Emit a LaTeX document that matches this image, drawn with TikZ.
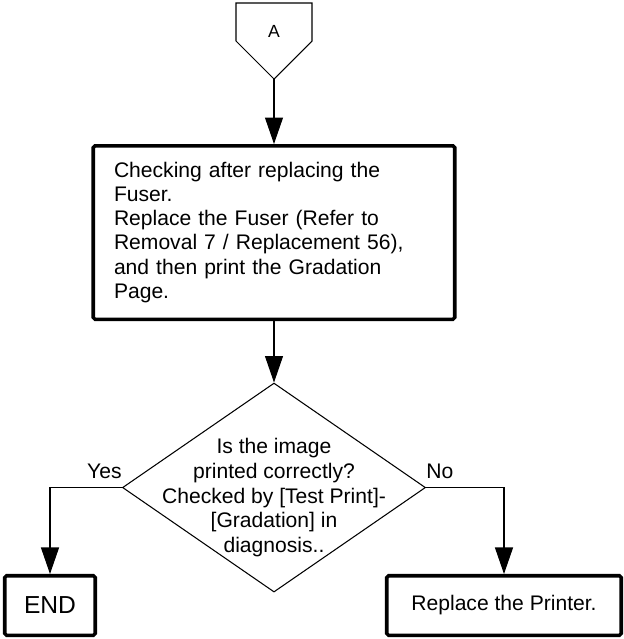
\documentclass[tikz,border=0pt]{standalone}
\usepackage{fontspec}
\setmainfont{Liberation Sans}
\usetikzlibrary{arrows.meta,positioning,shapes.geometric}

\begin{document}
\begin{tikzpicture}[
  stepbox/.style={draw, line width=2pt, rounded corners=1pt, inner sep=0pt,
    font=\fontsize{12}{13.7}\selectfont},
  decision/.style={diamond, draw, line width=0.6pt, inner sep=0pt,
    minimum width=6.06cm, minimum height=4.18cm},
  line/.style={-{Triangle[length=5.3mm, width=3.6mm]}, line width=0.6pt},
  answer/.style={inner sep=0pt, font=\fontsize{12}{13.7}\selectfont}
]
\useasboundingbox (0,0) rectangle (12.48,-12.78);

% off-page connector
\draw[line width=0.6pt] (4.72,-0.06) -- (6.24,-0.06) -- (6.24,-0.82)
  -- (5.48,-1.58) -- (4.72,-0.82) -- cycle;
\node[font=\fontsize{10}{12}\selectfont] (A) at (5.48,-0.62) {A};
\coordinate (A-tip) at (5.48,-1.58);

\node[stepbox, text width=6.4cm, minimum width=7.23cm, minimum height=3.47cm,
  align=left, below=1.3cm of A-tip] (check) {
  Checking after replacing the\\
  Fuser.\\
  Replace the Fuser (Refer to\\
  Removal 7 / Replacement 56),\\
  and then print the Gradation\\
  Page.
};
\node[decision, below=1.23cm of check] (decide) {};
\node[answer, align=center, font=\fontsize{12}{14.2}\selectfont]
  (question) at ([yshift=-2mm]decide.center) {
  Is the image\\
  printed correctly?\\
  Checked by [Test Print]-\\{}[Gradation] in\\
  diagnosis..
};
\node[answer, anchor=base east] (yes) at ([yshift=1.8mm]decide.west) {Yes};
\node[answer, anchor=base west] (no) at ([yshift=1.8mm]decide.east) {No};

\node[stepbox, minimum width=1.81cm, minimum height=1.19cm,
  font=\fontsize{14}{16}\selectfont] (end) at (1.0,-12.11) {END};
\node[stepbox, minimum width=4.69cm, minimum height=1.19cm]
  (replace) at (10.08,-12.11) {Replace the Printer.};

\draw[line] (A-tip) -- (check);
\draw[line] (check) -- (decide);
\draw[line] (decide.west) -| (end);
\draw[line] (decide.east) -| (replace);
\end{tikzpicture}
\end{document}
